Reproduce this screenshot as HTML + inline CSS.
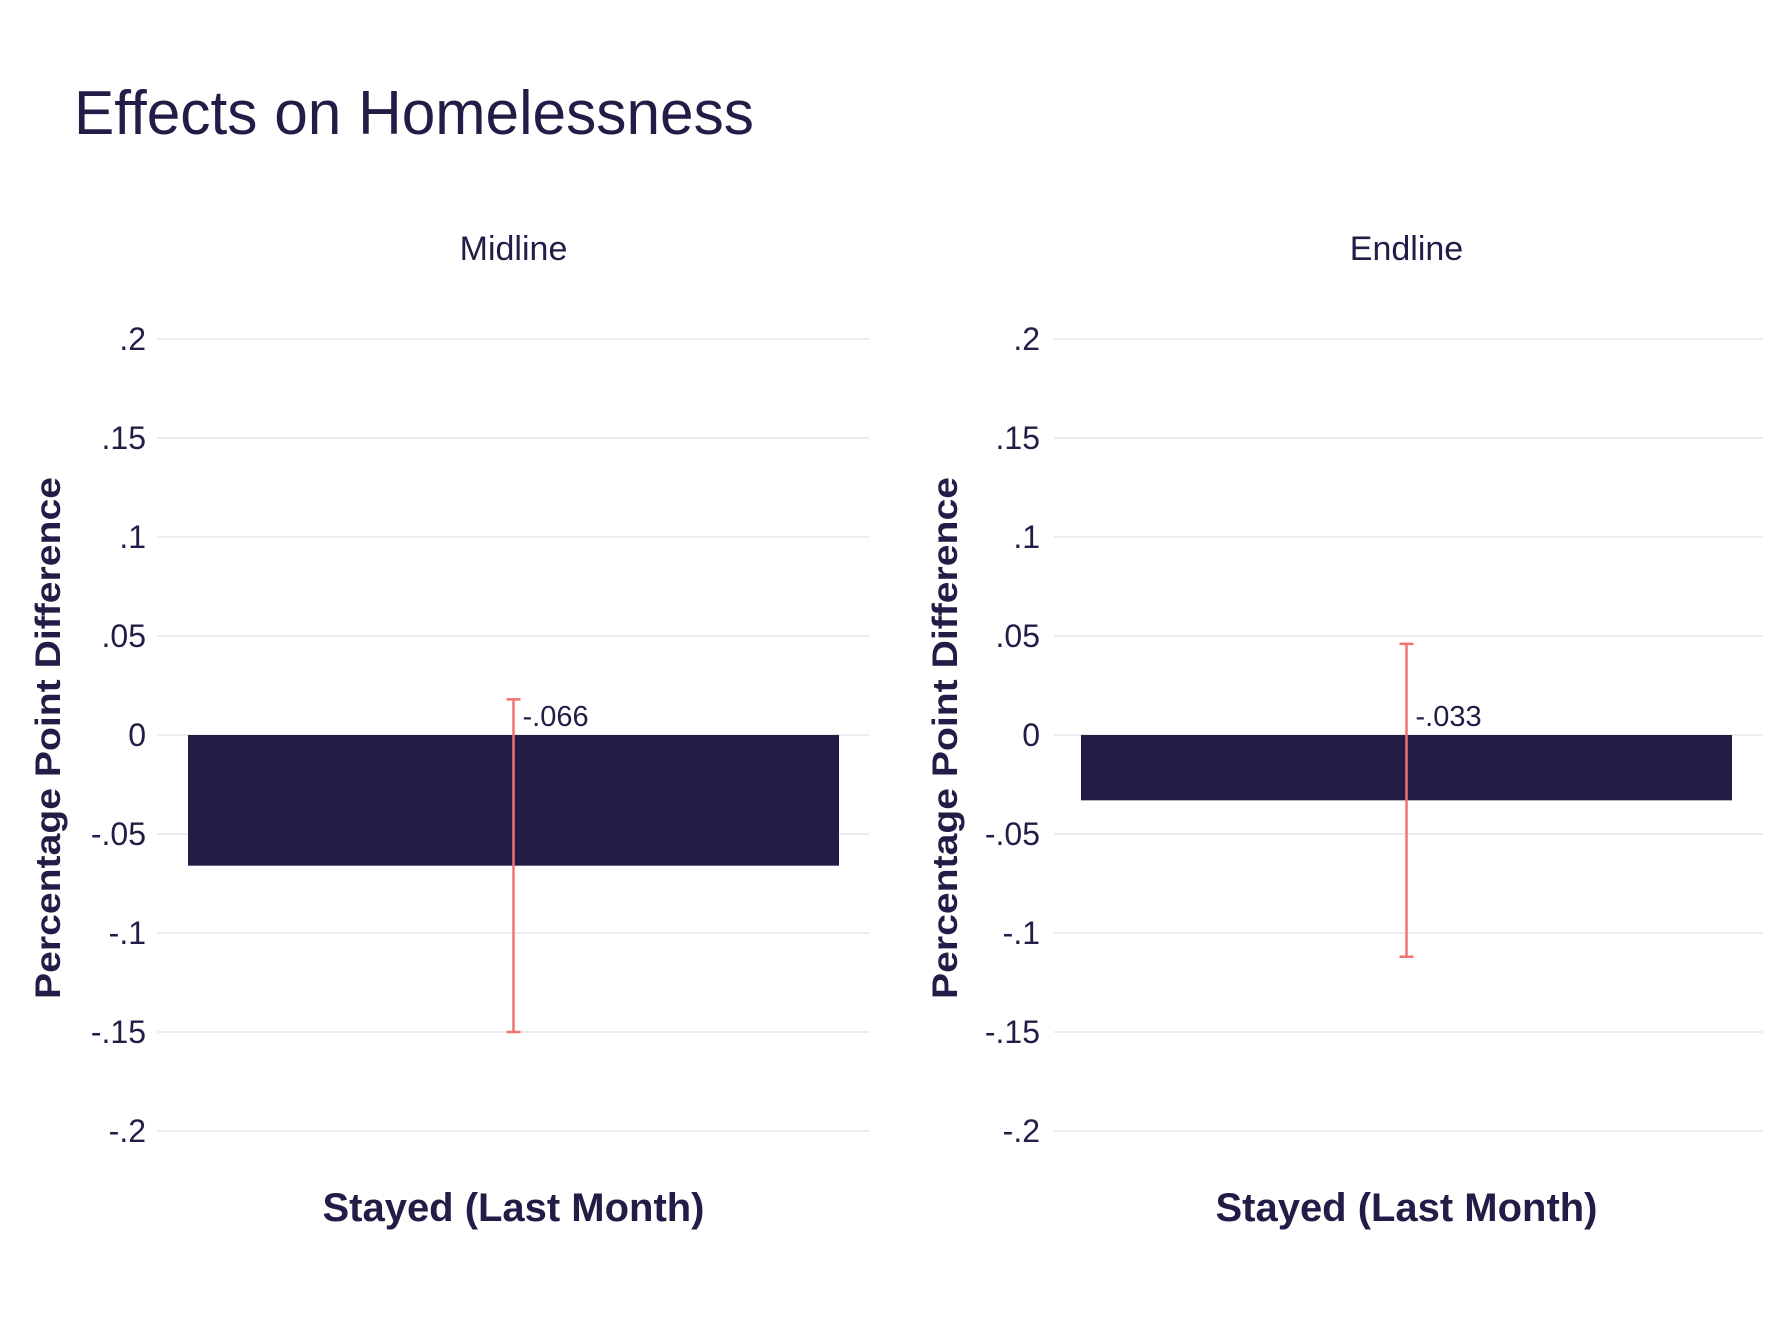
<!DOCTYPE html>
<html><head><meta charset="utf-8"><style>
html,body{margin:0;padding:0;background:#fff}
svg{display:block;font-family:"Liberation Sans",sans-serif}
</style></head><body>
<svg id="chart" width="1786" height="1336" viewBox="0 0 1786 1336" xmlns="http://www.w3.org/2000/svg">
<text x="74" y="134" font-size="62" fill="#231c47" textLength="680" lengthAdjust="spacingAndGlyphs">Effects on Homelessness</text>
<g id="panels"></g>
</svg>
<script>
const panelNames = ["Midline", "Endline"];
const categories = ["Stayed (Last Month)"];
const estimates = [-0.066, -0.033];
const ciLow = [-0.150, -0.112];
const ciHigh = [0.018, 0.046];
const valueLabels = ["-.066", "-.033"];
const tickValues = [0.2, 0.15, 0.1, 0.05, 0, -0.05, -0.1, -0.15, -0.2];
const tickLabels = [".2", ".15", ".1", ".05", "0", "-.05", "-.1", "-.15", "-.2"];

const NS = "http://www.w3.org/2000/svg";
const g = document.getElementById("panels");
const layout = [
  {gx0: 157, gx1: 869, tickX: 146, barX0: 188, barX1: 839, axisX: 48},
  {gx0: 1054, gx1: 1763, tickX: 1040, barX0: 1081, barX1: 1732, axisX: 945}
];
function y(v){ return 735 - v * 1980; }
function mk(tag, attrs, text){
  const e = document.createElementNS(NS, tag);
  for (const k in attrs) e.setAttribute(k, attrs[k]);
  if (text !== undefined) e.textContent = text;
  g.appendChild(e);
  return e;
}
panelNames.forEach((name, p) => {
  const L = layout[p];
  const cx = (L.barX0 + L.barX1) / 2;
  const t = mk("text", {x: cx, y: 260, "font-size": 34, fill: "#231c47", "text-anchor": "middle"}, name);
  
  
  tickValues.forEach((v, i) => {
    const ln = mk("line", {x1: L.gx0, x2: L.gx1, y1: y(v), y2: y(v), stroke: "#e6e6e6", "stroke-width": 1.5});
    
    
    const tl = mk("text", {x: L.tickX, y: y(v) + 11, "font-size": 32, fill: "#231c47", "text-anchor": "end"}, tickLabels[i]);
    
    
  });
  const at = mk("text", {x: 0, y: 0, "font-size": 35, "font-weight": "bold", fill: "#231c47", "text-anchor": "middle",
    transform: `translate(${L.axisX + 12},738) rotate(-90)`, textLength: 522, lengthAdjust: "spacingAndGlyphs"}, "Percentage Point Difference");
  
  
  const v = estimates[p];
  const bar = mk("rect", {x: L.barX0, width: L.barX1 - L.barX0, y: Math.min(y(0), y(v)), height: Math.abs(y(v) - y(0)), fill: "#241c46"});
  
  
  const eb = mk("path", {d: `M${cx-7},${y(ciHigh[p])}H${cx+7}M${cx},${y(ciHigh[p])}V${y(ciLow[p])}M${cx-7},${y(ciLow[p])}H${cx+7}`, stroke: "#f07470", "stroke-width": 2.5, fill: "none"});
  
  
  const vl = mk("text", {x: cx + 9, y: 726, "font-size": 29, fill: "#231c47"}, valueLabels[p]);
  
  
  const xl = mk("text", {x: cx, y: 1221, "font-size": 40, "font-weight": "bold", fill: "#231c47", "text-anchor": "middle", textLength: 382, lengthAdjust: "spacingAndGlyphs"}, categories[0]);
  
  
});
</script>
</body></html>
